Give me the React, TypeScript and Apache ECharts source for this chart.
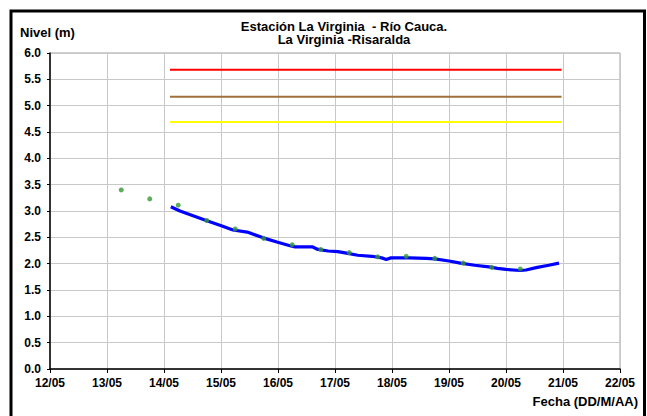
import React, { useEffect, useRef } from "react";
import * as echarts from "echarts";

// x values are days elapsed since 12/05 00:00
const tickLabels = ["12/05", "13/05", "14/05", "15/05", "16/05", "17/05", "18/05", "19/05", "20/05", "21/05", "22/05"];

const levelDays = [2.12, 2.28, 2.51, 2.74, 2.98, 3.21, 3.46, 3.74, 3.98, 4.21, 4.3, 4.45, 4.6, 4.7, 4.88, 5.05, 5.2, 5.4, 5.65, 5.82, 5.9, 5.98, 6.3, 6.6, 6.75, 7.0, 7.2, 7.45, 7.7, 7.85, 8.0, 8.25, 8.35, 8.55, 8.75, 8.93];
const levelValues = [3.08, 3.0, 2.91, 2.82, 2.73, 2.64, 2.6, 2.49, 2.41, 2.34, 2.32, 2.32, 2.32, 2.27, 2.24, 2.23, 2.2, 2.16, 2.14, 2.11, 2.08, 2.11, 2.11, 2.1, 2.09, 2.05, 2.01, 1.97, 1.94, 1.91, 1.89, 1.87, 1.88, 1.93, 1.97, 2.01];

const readingDays = [1.25, 1.75, 2.25, 2.75, 3.25, 3.75, 4.25, 4.75, 5.25, 5.75, 6.25, 6.75, 7.25, 7.75, 8.25];
const readingValues = [3.4, 3.23, 3.11, 2.82, 2.66, 2.48, 2.36, 2.27, 2.21, 2.13, 2.14, 2.1, 2.01, 1.93, 1.9];

const thresholdSpan = [2.105, 8.975];
const redLevel = 5.68;
const brownLevel = 5.17;
const yellowLevel = 4.69;

const FONT = "'Liberation Sans', Arial, sans-serif";

export default function App() {
  const ref = useRef<HTMLDivElement>(null);
  useEffect(() => {
    if (!ref.current) return;
    const chart = echarts.init(ref.current, undefined, { renderer: "svg" });
    const hline = (v: number, color: string) => ({
      type: "line",
      data: thresholdSpan.map((d) => [d, v]),
      showSymbol: false,
      symbol: "none",
      lineStyle: { color, width: 2 },
      z: 3,
    });
    chart.setOption({
      animation: false,
      backgroundColor: "#ffffff",
      grid: { left: 50, right: 27, top: 53, bottom: 47, show: true, borderColor: "#a0a0a0", borderWidth: 1 },
      xAxis: {
        type: "value",
        min: 0,
        max: 10,
        interval: 1,
        axisLine: { show: true, lineStyle: { color: "#000", width: 1.5 } },
        axisTick: { show: true, length: 4, lineStyle: { color: "#000" } },
        splitLine: { show: true, lineStyle: { color: "#c8c8c8", width: 1 } },
        axisLabel: {
          formatter: (v: number) => tickLabels[Math.round(v)] ?? "",
          color: "#000",
          fontWeight: "bold",
          fontSize: 12,
          fontFamily: FONT,
          margin: 8,
        },
      },
      yAxis: {
        type: "value",
        min: 0,
        max: 6,
        interval: 0.5,
        axisLine: { show: true, lineStyle: { color: "#000", width: 1.5 } },
        axisTick: { show: true, length: 3, lineStyle: { color: "#000" } },
        splitLine: { show: true, lineStyle: { color: "#c8c8c8", width: 1 } },
        axisLabel: {
          formatter: (v: number) => v.toFixed(1),
          color: "#000",
          fontWeight: "bold",
          fontSize: 12,
          fontFamily: FONT,
          margin: 9,
        },
      },
      series: [
        hline(redLevel, "#ff0000"),
        hline(brownLevel, "#a0703c"),
        hline(yellowLevel, "#ffff00"),
        {
          type: "line",
          data: levelDays.map((d, i) => [d, levelValues[i]]),
          showSymbol: false,
          symbol: "none",
          lineStyle: { color: "#0000ff", width: 3.2 },
          z: 4,
        },
        {
          type: "scatter",
          data: readingDays.map((d, i) => [d, readingValues[i]]),
          symbol: "circle",
          symbolSize: 5,
          itemStyle: { color: "#339933" },
          z: 5,
        },
      ],
      graphic: [
        {
          type: "rect",
          shape: { x: 11, y: 11, width: 633.5, height: 500 },
          style: { fill: "none", stroke: "#000", lineWidth: 3 },
          silent: true,
        },
        {
          type: "text",
          x: 20,
          y: 32,
          style: { text: "Nivel (m)", font: `bold 13px ${FONT}`, fill: "#000", verticalAlign: "middle" },
        },
        {
          type: "text",
          x: 344,
          y: 26,
          style: { text: "Estación La Virginia  - Río Cauca.", font: `bold 13px ${FONT}`, fill: "#000", align: "center", verticalAlign: "middle" },
        },
        {
          type: "text",
          x: 344,
          y: 39.5,
          style: { text: "La Virginia -Risaralda", font: `bold 13px ${FONT}`, fill: "#000", align: "center", verticalAlign: "middle" },
        },
        {
          type: "text",
          x: 638,
          y: 401,
          style: { text: "Fecha (DD/M/AA)", font: `bold 13px ${FONT}`, fill: "#000", align: "right", verticalAlign: "middle" },
        },
      ],
    });
    return () => chart.dispose();
  }, []);
  return <div ref={ref} style={{ position: "fixed", left: 0, top: 0, width: 647, height: 416 }} />;
}
